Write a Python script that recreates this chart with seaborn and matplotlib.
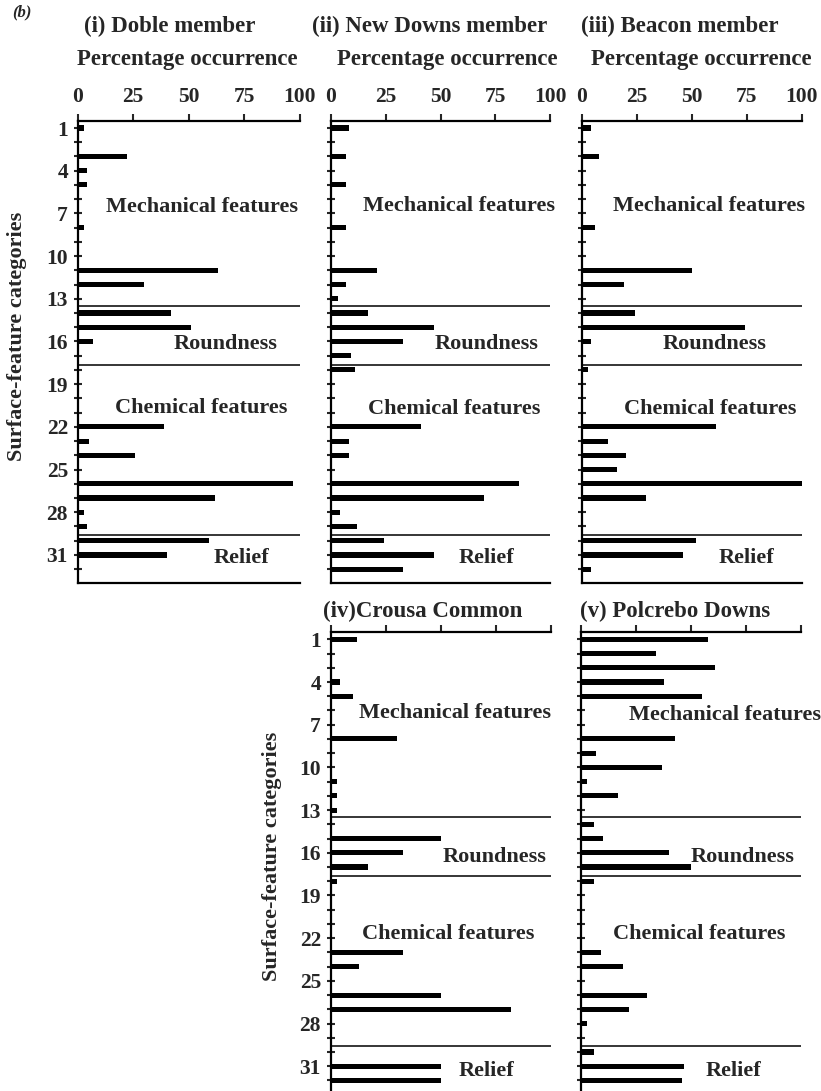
import matplotlib
matplotlib.use("Agg")
import numpy as np
import pandas as pd
import matplotlib.pyplot as plt
import seaborn as sns
from matplotlib.ticker import FixedLocator, NullFormatter

sns.set_style("ticks")
plt.rcParams["font.family"] = ["Liberation Serif", "DejaVu Serif"]
plt.rcParams["font.weight"] = "bold"
plt.rcParams["axes.labelweight"] = "bold"

# surface-feature categories 1..32
CATEGORIES = list(range(1, 33))

DOBLE = [3, 0, 22, 4, 4, 0, 0, 3, 0, 0, 63, 30, 0, 42, 51, 7,
         0, 0, 0, 0, 0, 39, 5, 26, 0, 97, 62, 3, 4, 59, 40, 0]
NEW_DOWNS = [8, 0, 7, 0, 7, 0, 0, 7, 0, 0, 21, 7, 3, 17, 47, 33,
             9, 11, 0, 0, 0, 41, 8, 8, 0, 86, 70, 4, 12, 24, 47, 33]
BEACON = [4, 0, 8, 0, 0, 0, 0, 6, 0, 0, 50, 19, 0, 24, 74, 4,
          0, 3, 0, 0, 0, 61, 12, 20, 16, 100, 29, 0, 0, 52, 46, 4]
CROUSA = [12, 0, 0, 4, 10, 0, 0, 30, 0, 0, 3, 3, 3, 0, 50, 33,
          17, 3, 0, 0, 0, 0, 33, 13, 0, 50, 82, 0, 0, 0, 50, 50]
POLCREBO = [58, 34, 61, 38, 55, 0, 0, 43, 7, 37, 3, 17, 0, 6, 10, 40,
            50, 6, 0, 0, 0, 0, 9, 19, 0, 30, 22, 3, 0, 6, 47, 46]

TITLES = ["(i) Doble member", "(ii) New Downs member", "(iii) Beacon member",
          "(iv)Crousa Common", "(v) Polcrebo Downs"]
SECTIONS = ["Mechanical features", "Roundness", "Chemical features", "Relief"]
SECTION_BREAKS = [13.5, 17.65, 29.6]
X_TICKS = [0, 25, 50, 75, 100]
Y_LABELLED = list(range(1, 32, 3))

W, H = 821, 1091
fig = plt.figure(figsize=(W / 100, H / 100), dpi=100)


def px_axes(left, top, width, height):
    return fig.add_axes([left / W, 1 - (top + height) / H, width / W, height / H])


panels = [
    dict(vals=DOBLE, box=(77.7, 120.9, 222, 462.5), top=True, ylab=True, tx=0.416, lx=0.495,
         ylx=-51, yly=0.535,
         text=[(56, 6.55), (66.7, 16.2), (55.5, 20.7), (73.6, 31.25)]),
    dict(vals=NEW_DOWNS, box=(331, 120.9, 219, 462.5), top=True, ylab=False, tx=0.45, lx=0.53,
         text=[(58.4, 6.5), (70.9, 16.2), (56.3, 20.75), (70.8, 31.25)]),
    dict(vals=BEACON, box=(581.7, 120.9, 220, 462.5), top=True, ylab=False, tx=0.447, lx=0.545,
         text=[(58, 6.5), (60.6, 16.2), (58.3, 20.75), (74.7, 31.25)]),
    dict(vals=CROUSA, box=(330.7, 632.2, 220, 462.5), top=False, ylab=True, tx=0.42, lx=0.5,
         ylx=-49, yly=0.515,
         text=[(56.5, 6.2), (74.7, 16.3), (53.3, 21.7), (71, 31.3)]),
    dict(vals=POLCREBO, box=(580.7, 632.2, 220, 462.5), top=False, ylab=False, tx=0.43, lx=0.5,
         text=[(65.6, 6.3), (73.6, 16.3), (53.9, 21.7), (69.4, 31.3)]),
]

for title, p in zip(TITLES, panels):
    ax = px_axes(*p["box"])
    df = pd.DataFrame({"category": CATEGORIES, "pct": p["vals"]})
    sns.barplot(data=df, x="pct", y="category", orient="h", native_scale=True,
                color="black", width=0.36, linewidth=0, errorbar=None, ax=ax)
    ax.hlines(SECTION_BREAKS, 0, 100, color="black", linewidth=1.1)

    ax.set_xlim(0, 100)
    ax.set_ylim(33, 0.5)
    ax.set_xlabel("")
    ax.set_ylabel("")

    for s in ["top", "bottom", "left"]:
        ax.spines[s].set_linewidth(1.6)
        ax.spines[s].set_color("black")
    ax.spines["right"].set_visible(False)

    ax.xaxis.tick_top()
    ax.set_xticks(X_TICKS)
    ax.tick_params(axis="x", direction="out", length=5, width=1.5, pad=5,
                   labelsize=15.5, top=True, bottom=False,
                   labeltop=p["top"], labelbottom=False)

    ax.yaxis.set_major_locator(FixedLocator(Y_LABELLED))
    ax.yaxis.set_minor_locator(FixedLocator(CATEGORIES))
    ax.yaxis.set_minor_formatter(NullFormatter())
    ax.tick_params(axis="y", which="both", direction="inout", length=6, width=1.5,
                   pad=4, labelsize=15.5, labelleft=p["ylab"])
    if p["ylab"]:
        ax.set_yticklabels([str(v) for v in Y_LABELLED])
        ax.set_ylabel("Surface-feature categories", fontsize=16)
        ax.yaxis.set_label_coords(p["ylx"] / p["box"][2], p["yly"])

    for name, (x, y) in zip(SECTIONS, p["text"]):
        ax.text(x, y, name, ha="center", va="center", fontsize=16, clip_on=False)

    if p["top"]:
        ax.annotate(title, xy=(p["tx"], 1), xycoords="axes fraction",
                    xytext=(0, 67.7), textcoords="offset points",
                    ha="center", va="center", fontsize=16.5)
        ax.annotate("Percentage occurrence", xy=(p["lx"], 1), xycoords="axes fraction",
                    xytext=(0, 43.9), textcoords="offset points",
                    ha="center", va="center", fontsize=16.5)
    else:
        ax.annotate(title, xy=(p["tx"], 1), xycoords="axes fraction",
                    xytext=(0, 14.8), textcoords="offset points",
                    ha="center", va="center", fontsize=16.5)

fig.text(22 / W, 1 - 12 / H, "(b)", ha="center", va="center",
         fontsize=12, style="italic", fontweight="bold")

fig.savefig("out.png", dpi=100)
